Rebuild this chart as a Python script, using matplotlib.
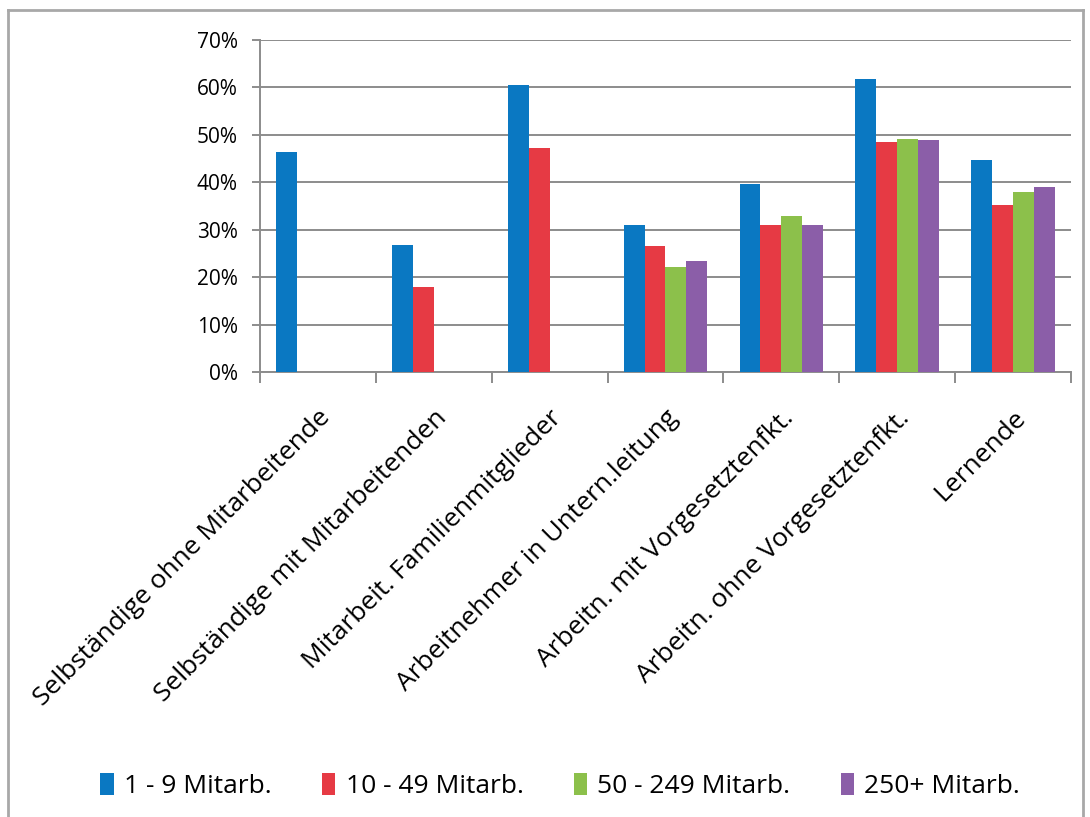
import numpy as np
import matplotlib.pyplot as plt
from matplotlib.lines import Line2D

plt.rcParams["font.family"] = ["Open Sans", "DejaVu Sans"]

categories = [
    "Selbständige ohne Mitarbeitende",
    "Selbständige mit Mitarbeitenden",
    "Mitarbeit. Familienmitglieder",
    "Arbeitnehmer in Untern.leitung",
    "Arbeitn. mit Vorgesetztenfkt.",
    "Arbeitn. ohne Vorgesetztenfkt.",
    "Lernende",
]
series_names = ["1 - 9 Mitarb.", "10 - 49 Mitarb.", "50 - 249 Mitarb.", "250+ Mitarb."]
v_1_9 = [46.3, 26.7, 60.6, 31.1, 39.7, 61.8, 44.7]
v_10_49 = [np.nan, 17.9, 47.3, 26.5, 31.1, 48.4, 35.2]
v_50_249 = [np.nan, np.nan, np.nan, 22.2, 32.9, 49.2, 38.0]
v_250 = [np.nan, np.nan, np.nan, 23.4, 31.0, 49.0, 39.0]
colors = ["#0a78c2", "#e63a44", "#8cc04b", "#8b5ea8"]

fig = plt.figure(figsize=(10.9, 8.17), dpi=100)
ax = fig.add_axes([0.2385, 0.5447, 0.744, 0.4063])

x = np.arange(len(categories))
w = 0.18
for i, (vals, name) in enumerate(zip([v_1_9, v_10_49, v_50_249, v_250], series_names)):
    ax.bar(x + (i - 1.5) * w, vals, width=w, color=colors[i], label=name, zorder=3)

ax.set_xlim(-0.5, len(categories) - 0.5)
ax.set_ylim(0, 70)
ax.set_yticks(np.arange(0, 71, 10))
ax.set_yticklabels([f"{v}%" for v in range(0, 71, 10)])
ax.grid(axis="y", color="#8c8c8c", lw=1.4, zorder=0)
for s in ["top", "right"]:
    ax.spines[s].set_visible(False)
for s in ["left", "bottom"]:
    ax.spines[s].set_color("#8c8c8c")
    ax.spines[s].set_linewidth(1.4)
ax.tick_params(axis="y", length=6, color="#8c8c8c", width=1.4, labelsize=15, pad=10)

ax.set_xticks(x)
ax.set_xticklabels(categories, rotation=45, ha="right", va="top",
                   rotation_mode="anchor", fontsize=19)
ax.tick_params(axis="x", which="major", length=0, pad=24)
ax.set_xticks(np.arange(-0.5, len(categories)), minor=True)
ax.tick_params(axis="x", which="minor", length=8, color="#8c8c8c", width=1.4)

handles, labels = ax.get_legend_handles_labels()
fig.legend(handles, labels, loc="center", bbox_to_anchor=(0.514, 0.038), ncol=4,
           frameon=False, fontsize=19, handlelength=0.5, handleheight=0.9,
           handletextpad=0.4, columnspacing=1.9)

# outer frame
fc = "#a8a8a8"
fig.add_artist(Line2D([8 / 1090, 8 / 1090], [0, 1 - 10 / 817], transform=fig.transFigure, color=fc, lw=2))
fig.add_artist(Line2D([8 / 1090, 1083 / 1090], [1 - 10 / 817, 1 - 10 / 817], transform=fig.transFigure, color=fc, lw=2))
fig.add_artist(Line2D([1083 / 1090, 1083 / 1090], [0, 1 - 10 / 817], transform=fig.transFigure, color=fc, lw=2))

fig.savefig("out.png", dpi=100)
